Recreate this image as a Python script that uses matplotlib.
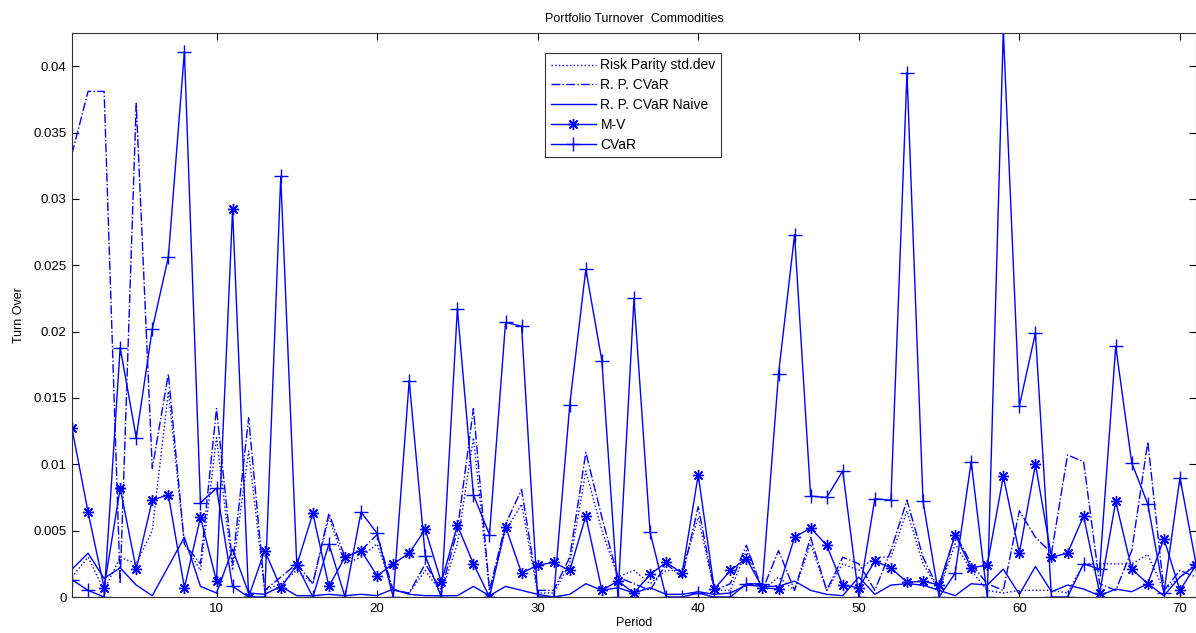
import matplotlib
matplotlib.use("Agg")
import matplotlib.pyplot as plt
import numpy as np

periods = list(range(1, 72))

risk_parity_std = [0.0015, 0.0030, 0.0005, 0.0030, 0.0025, 0.0050, 0.0155, 0.0040, 0.0020, 0.0120,
                   0.0020, 0.0110, 0.0005, 0.0010, 0.0020, 0.0010, 0.0060, 0.0025, 0.0030, 0.0040,
                   0.0005, 0.0003, 0.0020, 0.0003, 0.0040, 0.0120, 0.0005, 0.0050, 0.0070, 0.0003,
                   0.0003, 0.0025, 0.0095, 0.0050, 0.0015, 0.0020, 0.0010, 0.0020, 0.0020, 0.0060,
                   0.0005, 0.0005, 0.0035, 0.0005, 0.0015, 0.0005, 0.0040, 0.0005, 0.0025, 0.0020,
                   0.0030, 0.0030, 0.0065, 0.0025, 0.0005, 0.0040, 0.0020, 0.0005, 0.0003, 0.0005,
                   0.0005, 0.0005, 0.0003, 0.0025, 0.0025, 0.0025, 0.0025, 0.0032, 0.0005, 0.0015,
                   0.0025]

rp_cvar = [0.0334, 0.0381, 0.0381, 0.0010, 0.0372, 0.0097, 0.0168, 0.0040, 0.0025, 0.0142,
           0.0025, 0.0135, 0.0005, 0.0015, 0.0025, 0.0010, 0.0063, 0.0030, 0.0035, 0.0047,
           0.0005, 0.0003, 0.0025, 0.0005, 0.0050, 0.0142, 0.0005, 0.0055, 0.0081, 0.0005,
           0.0005, 0.0030, 0.0109, 0.0060, 0.0015, 0.0010, 0.0005, 0.0025, 0.0015, 0.0068,
           0.0005, 0.0010, 0.0039, 0.0005, 0.0035, 0.0005, 0.0045, 0.0005, 0.0030, 0.0025,
           0.0005, 0.0035, 0.0073, 0.0030, 0.0005, 0.0048, 0.0025, 0.0010, 0.0005, 0.0065,
           0.0045, 0.0033, 0.0107, 0.0102, 0.0010, 0.0005, 0.0035, 0.0117, 0.0005, 0.0020,
           0.0015]

rp_cvar_naive = [0.0021, 0.0033, 0.0014, 0.0022, 0.0009, 0.0001, 0.0023, 0.0045, 0.0008, 0.0003,
                 0.0036, 0.0003, 0.0002, 0.0008, 0.0001, 0.0001, 0.0002, 0.0001, 0.0002, 0.0001,
                 0.0006, 0.0002, 0.0001, 0.0001, 0.0001, 0.0008, 0.0001, 0.0008, 0.0005, 0.0002,
                 0.0000, 0.0002, 0.0010, 0.0005, 0.0007, 0.0003, 0.0007, 0.0002, 0.0002, 0.0004,
                 0.0002, 0.0003, 0.0009, 0.0008, 0.0008, 0.0012, 0.0005, 0.0002, 0.0001, 0.0015,
                 0.0002, 0.0009, 0.0010, 0.0009, 0.0005, 0.0001, 0.0010, 0.0009, 0.0021, 0.0002,
                 0.0023, 0.0004, 0.0009, 0.0006, 0.0001, 0.0006, 0.0004, 0.0010, 0.0001, 0.0015,
                 0.0024]

mv = [0.0127, 0.0064, 0.0007, 0.0082, 0.0021, 0.0073, 0.0077, 0.0007, 0.0060, 0.0012,
      0.0292, 0.0000, 0.0035, 0.0007, 0.0024, 0.0063, 0.0008, 0.0030, 0.0035, 0.0016,
      0.0025, 0.0033, 0.0051, 0.0011, 0.0054, 0.0025, 0.0000, 0.0053, 0.0018, 0.0024,
      0.0026, 0.0020, 0.0061, 0.0005, 0.0012, 0.0003, 0.0017, 0.0026, 0.0018, 0.0092,
      0.0006, 0.0020, 0.0029, 0.0007, 0.0006, 0.0045, 0.0052, 0.0039, 0.0009, 0.0007,
      0.0027, 0.0022, 0.0011, 0.0012, 0.0009, 0.0047, 0.0022, 0.0024, 0.0091, 0.0033,
      0.0100, 0.0030, 0.0033, 0.0061, 0.0003, 0.0072, 0.0021, 0.0010, 0.0044, 0.0005,
      0.0024]

cvar = [0.0013, 0.0005, 0.0000, 0.0188, 0.0120, 0.0202, 0.0256, 0.0411, 0.0071, 0.0082,
        0.0008, 0.0000, 0.0000, 0.0317, 0.0024, 0.0000, 0.0040, 0.0000, 0.0064, 0.0048,
        0.0000, 0.0163, 0.0031, 0.0000, 0.0217, 0.0077, 0.0047, 0.0207, 0.0204, 0.0000,
        0.0000, 0.0145, 0.0247, 0.0178, 0.0000, 0.0225, 0.0049, 0.0000, 0.0000, 0.0003,
        0.0000, 0.0000, 0.0010, 0.0010, 0.0168, 0.0273, 0.0076, 0.0075, 0.0095, 0.0000,
        0.0074, 0.0073, 0.0395, 0.0072, 0.0000, 0.0018, 0.0102, 0.0000, 0.0427, 0.0144,
        0.0199, 0.0000, 0.0000, 0.0025, 0.0021, 0.0189, 0.0101, 0.0070, 0.0003, 0.0090,
        0.0025]

ytick_vals = [0, 0.005, 0.01, 0.015, 0.02, 0.025, 0.03, 0.035, 0.04]
ytick_labels = ["0", "0.005", "0.01", "0.015", "0.02", "0.025", "0.03", "0.035", "0.04"]
xtick_vals = [10, 20, 30, 40, 50, 60, 70]

plt.rcParams['font.family'] = ['Liberation Sans', 'DejaVu Sans']

fig = plt.figure(figsize=(11.96, 6.33), dpi=100)
ax = fig.add_axes([72/1196, (633-597)/633, (1196-72)/1196, (597-33)/633])

blue = '#0000ff'
lw = 1.0
asterisk = (8, 2, 0)
ax.plot(periods, risk_parity_std, linestyle=':', color=blue, lw=lw, label='Risk Parity std.dev')
ax.plot(periods, rp_cvar, linestyle='-.', color=blue, lw=lw, label='R. P. CVaR')
ax.plot(periods, rp_cvar_naive, linestyle='-', color=blue, lw=lw, label='R. P. CVaR Naive')
ax.plot(periods, mv, linestyle='-', color=blue, lw=lw, marker=asterisk, ms=8, mew=1.0, label='M-V')
ax.plot(periods, cvar, linestyle='-', color=blue, lw=lw, marker='+', ms=10, mew=1.0, label='CVaR')

ax.set_xlim(1, 71)
ax.set_ylim(0, 0.0425)
ax.set_xticks(xtick_vals)
ax.set_yticks(ytick_vals)
ax.set_yticklabels(ytick_labels)
ax.tick_params(direction='in', top=True, right=True, labelsize=9.5, length=5, width=0.8, pad=4)
for s in ax.spines.values():
    s.set_linewidth(0.8)
    s.set_color('#333333')

ax.set_title('Portfolio Turnover  Commodities', fontsize=9, pad=8)
ax.set_xlabel('Period', fontsize=9, labelpad=2)
ax.set_ylabel('Turn Over', fontsize=9, labelpad=6)

leg = ax.legend(loc='upper left', bbox_to_anchor=((538-72)/1124, (597-46)/564), fontsize=10,
                frameon=True, fancybox=False, edgecolor='#333333', framealpha=1,
                handlelength=3.3, borderpad=0.4, labelspacing=0.42, handletextpad=0.3)
leg.get_frame().set_linewidth(0.8)

fig.savefig('out.png', dpi=100)
